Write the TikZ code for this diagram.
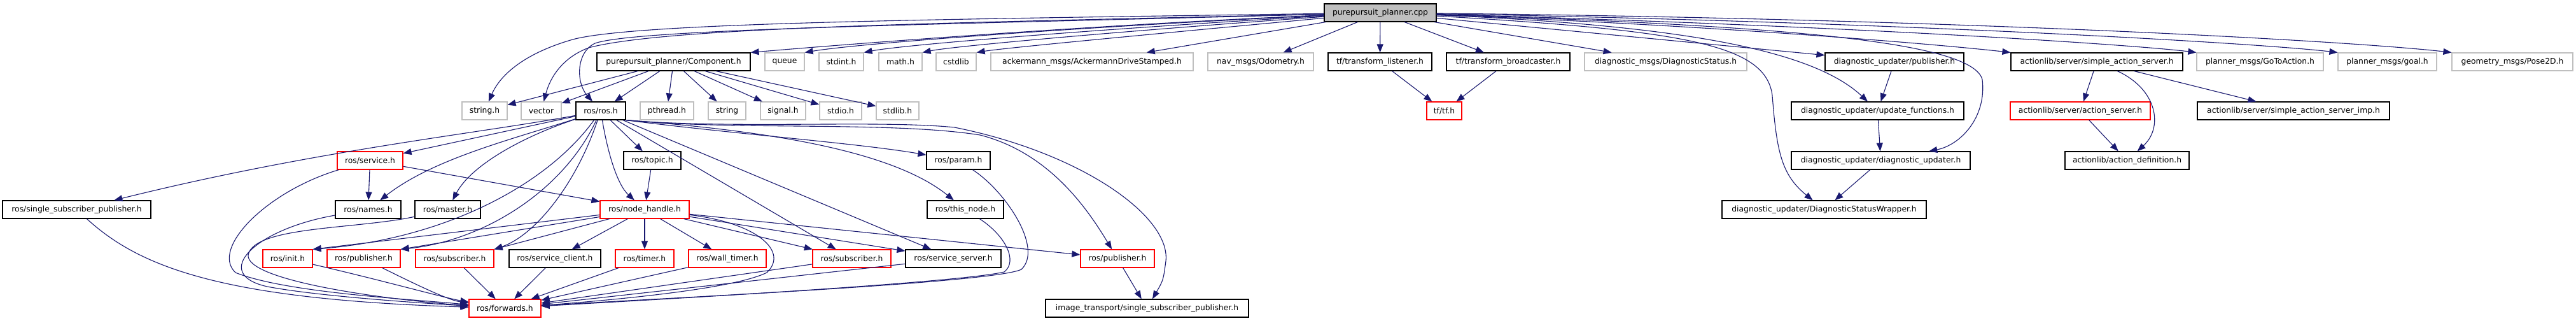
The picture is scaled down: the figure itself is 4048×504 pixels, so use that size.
\documentclass[tikz,border=0pt]{standalone}
\usepackage{fontspec}
\setmainfont{DejaVu Sans}
\usetikzlibrary{arrows.meta}
\definecolor{edgec}{HTML}{191970}
\definecolor{grayb}{HTML}{BFBFBF}
\definecolor{redb}{HTML}{FF0000}
\begin{document}
\begin{tikzpicture}[x=1bp,y=-1bp,
  nbase/.style={rectangle, inner sep=0pt, minimum height=28bp, fill=white, line width=1.2bp, font=\fontsize{12.4}{14}\selectfont},
  blk/.style={nbase, draw=black},
  gry/.style={nbase, draw=grayb},
  rd/.style={nbase, draw=redb},
  rt/.style={nbase, draw=black, fill=grayb},
  dep/.style={draw=edgec, line width=1.1bp, -{Triangle[length=13bp,width=10bp,color=edgec]}}]
\fill[white] (0,0) rectangle (4048,504);
\useasboundingbox (0,0) rectangle (4048,504);
% row 0
\node[rt, minimum width=176bp] (root) at (2169,20) {purepursuit\_planner.cpp};
% row 1
\node[blk, minimum width=241bp] (comp) at (1058.5,97) {purepursuit\_planner/Component.h};
\node[gry, minimum width=62bp] (queue) at (1233,97) {queue};
\node[gry, minimum width=70bp] (stdint) at (1322,97) {stdint.h};
\node[gry, minimum width=68bp] (math) at (1415,97) {math.h};
\node[gry, minimum width=63bp] (cstdlib) at (1502.5,97) {cstdlib};
\node[gry, minimum width=318bp] (acker) at (1716,97) {ackermann\_msgs/AckermannDriveStamped.h};
\node[gry, minimum width=166bp] (odom) at (1981,97) {nav\_msgs/Odometry.h};
\node[blk, minimum width=163bp] (tflist) at (2168.5,97) {tf/transform\_listener.h};
\node[blk, minimum width=194bp] (tfbroad) at (2370,97) {tf/transform\_broadcaster.h};
\node[gry, minimum width=255bp] (diagstat) at (2617.5,97) {diagnostic\_msgs/DiagnosticStatus.h};
\node[blk, minimum width=218bp] (dupub) at (2977,97) {diagnostic\_updater/publisher.h};
\node[blk, minimum width=270bp] (sas) at (3295,97) {actionlib/server/simple\_action\_server.h};
\node[gry, minimum width=199bp] (goto) at (3551.5,97) {planner\_msgs/GoToAction.h};
\node[gry, minimum width=155bp] (goal) at (3751.5,97) {planner\_msgs/goal.h};
\node[gry, minimum width=190bp] (pose) at (3948,97) {geometry\_msgs/Pose2D.h};
% row 2
\node[gry, minimum width=71bp] (stringh) at (761.5,174) {string.h};
\node[gry, minimum width=63bp] (vector) at (850.5,174) {vector};
\node[blk, minimum width=78bp] (rosh) at (944,174) {ros/ros.h};
\node[gry, minimum width=84bp] (pthread) at (1048,174) {pthread.h};
\node[gry, minimum width=59bp] (string) at (1142.5,174) {string};
\node[gry, minimum width=71bp] (signal) at (1230.5,174) {signal.h};
\node[gry, minimum width=66bp] (stdio) at (1321,174) {stdio.h};
\node[gry, minimum width=67bp] (stdlib) at (1410.5,174) {stdlib.h};
\node[rd, minimum width=55bp] (tfh) at (2269.5,174) {tf/tf.h};
\node[blk, minimum width=271bp] (updfn) at (2950.5,174) {diagnostic\_updater/update\_functions.h};
\node[rd, minimum width=220bp] (as) at (3269,174) {actionlib/server/action\_server.h};
\node[blk, minimum width=302bp] (sasimp) at (3604,174) {actionlib/server/simple\_action\_server\_imp.h};
% row 3
\node[rd, minimum width=103bp] (service) at (581.5,252) {ros/service.h};
\node[blk, minimum width=90bp] (topic) at (1025,252) {ros/topic.h};
\node[blk, minimum width=100bp] (param) at (1506,252) {ros/param.h};
\node[blk, minimum width=281bp] (dupd) at (2955.5,252) {diagnostic\_updater/diagnostic\_updater.h};
\node[blk, minimum width=195bp] (actdef) at (3342.5,252) {actionlib/action\_definition.h};
% row 4
\node[blk, minimum width=233bp] (ssp) at (120.5,329) {ros/single\_subscriber\_publisher.h};
\node[blk, minimum width=103bp] (names) at (578.5,329) {ros/names.h};
\node[blk, minimum width=103bp] (master) at (703.5,329) {ros/master.h};
\node[rd, minimum width=140bp] (nh) at (1013,329) {ros/node\_handle.h};
\node[blk, minimum width=120bp] (thisnode) at (1517,329) {ros/this\_node.h};
\node[blk, minimum width=321bp] (dsw) at (2866.5,329) {diagnostic\_updater/DiagnosticStatusWrapper.h};
% row 5
\node[rd, minimum width=78bp] (init) at (452,406) {ros/init.h};
\node[rd, minimum width=115bp] (pubL) at (571.5,406) {ros/publisher.h};
\node[rd, minimum width=123bp] (subL) at (714.5,406) {ros/subscriber.h};
\node[blk, minimum width=144bp] (sc) at (872,406) {ros/service\_client.h};
\node[rd, minimum width=92bp] (timer) at (1013,406) {ros/timer.h};
\node[rd, minimum width=122bp] (wtimer) at (1143,406) {ros/wall\_timer.h};
\node[rd, minimum width=123bp] (subR) at (1338.5,406) {ros/subscriber.h};
\node[blk, minimum width=150bp] (ss) at (1498,406) {ros/service\_server.h};
\node[rd, minimum width=116bp] (pubR) at (1756,406) {ros/publisher.h};
% row 6
\node[rd, minimum width=113bp] (fwd) at (793.5,484) {ros/forwards.h};
\node[blk, minimum width=319bp] (itssp) at (1802.5,484) {image\_transport/single\_subscriber\_publisher.h};

% root edges
\draw[dep] (root) .. controls (1500,30) and (1000,35) .. (900,62) .. controls (820,85) and (785,120) .. (stringh);
\draw[dep] (root) .. controls (1500,36) and (1050,42) .. (925,75) .. controls (885,90) and (865,120) .. (vector);
\draw[dep] (root) .. controls (1500,38) and (1000,45) .. (935,68) .. controls (905,82) and (905,130) .. (rosh);
\draw[dep] (root) .. controls (1700,40) and (1300,72) .. (comp.north east);
\draw[dep] (root) .. controls (1700,42) and (1350,68) .. (queue.north east);
\draw[dep] (root) .. controls (1750,44) and (1420,70) .. (stdint.north east);
\draw[dep] (root) .. controls (1800,46) and (1500,72) .. (math.north east);
\draw[dep] (root) .. controls (1850,50) and (1580,75) .. (cstdlib.north east);
\draw[dep] (root) -- (acker);
\draw[dep] (root) -- (odom);
\draw[dep] (root) -- (tflist);
\draw[dep] (root) -- (tfbroad);
\draw[dep] (root) -- (diagstat);
\draw[dep] (root) -- (dupub);
\draw[dep] (root) .. controls (2650,40) and (2850,80) .. (updfn);
\draw[dep] (root) .. controls (2800,40) and (3100,65) .. (3115,125) .. controls (3122,185) and (3080,228) .. (dupd);
\draw[dep] (root) .. controls (2650,48) and (2775,70) .. (2785,150) .. controls (2792,240) and (2800,275) .. (dsw);
\draw[dep] (root) .. controls (2700,40) and (3050,70) .. (sas.north west);
\draw[dep] (root) .. controls (2900,40) and (3350,70) .. (goto.north west);
\draw[dep] (root) .. controls (3000,35) and (3550,68) .. (goal.north west);
\draw[dep] (root) .. controls (3100,30) and (3700,65) .. (pose.north west);
% Component.h edges
\draw[dep] (comp) -- (stringh);
\draw[dep] (comp) -- (vector);
\draw[dep] (comp) -- (rosh);
\draw[dep] (comp) -- (pthread);
\draw[dep] (comp) -- (string);
\draw[dep] (comp) -- (signal);
\draw[dep] (comp) -- (stdio);
\draw[dep] (comp) -- (stdlib);
% ros.h edges
\draw[dep] (rosh) .. controls (750,210) and (500,235) .. (ssp);
\draw[dep] (rosh) -- (service);
\draw[dep] (rosh) .. controls (800,220) and (680,250) .. (names);
\draw[dep] (rosh) .. controls (820,215) and (740,260) .. (master);
\draw[dep] (rosh) .. controls (955,240) and (970,290) .. (nh);
\draw[dep] (rosh) -- (topic);
\draw[dep] (rosh) .. controls (860,290) and (700,375) .. (init.north east);
\draw[dep] (rosh) .. controls (885,300) and (760,378) .. (pubL.north east);
\draw[dep] (rosh) .. controls (905,290) and (840,370) .. (subL.north east);
\draw[dep] (rosh) -- (subR);
\draw[dep] (rosh) -- (ss);
\draw[dep] (rosh.south east) .. controls (1150,210) and (1350,225) .. (param);
\draw[dep] (rosh.south east) .. controls (1200,205) and (1400,235) .. (thisnode);
\draw[dep] (rosh.south east) .. controls (1150,205) and (1400,190) .. (1540,212) .. controls (1650,240) and (1710,330) .. (pubR);
\draw[dep] (rosh.south east) .. controls (1150,203) and (1380,188) .. (1500,200) .. controls (1700,240) and (1840,340) .. (1832,410) .. controls (1828,440) .. (itssp);
% node_handle edges
\draw[dep] (nh) -- (init.north east);
\draw[dep] (nh) -- (pubL.north east);
\draw[dep] (nh) -- (subL.north east);
\draw[dep] (nh) -- (sc);
\draw[dep] (nh) -- (timer);
\draw[dep] (nh) -- (wtimer);
\draw[dep] (nh) -- (subR);
\draw[dep] (nh) -- (ss);
\draw[dep] (nh) -- (pubR);
\draw[dep] (nh) .. controls (1190,350) and (1240,395) .. (1205,428) .. controls (1150,455) and (950,472) .. (fwd);
% service.h edges
\draw[dep] (service) -- (names);
\draw[dep] (service) -- (nh);
\draw[dep] (service) .. controls (420,300) and (330,390) .. (370,428) .. controls (450,460) and (650,470) .. (fwd);
\draw[dep] (topic) -- (nh);
% edges into forwards.h
\draw[dep] (param) .. controls (1580,300) and (1640,390) .. (1605,423) .. controls (1560,445) and (1000,470) .. (fwd);
\draw[dep] (thisnode) .. controls (1580,370) and (1600,410) .. (1578,427) .. controls (1500,445) and (1000,472) .. (fwd);
\draw[dep] (ss) -- (fwd);
\draw[dep] (subR) -- (fwd);
\draw[dep] (wtimer) -- (fwd);
\draw[dep] (timer) -- (fwd);
\draw[dep] (sc) -- (fwd);
\draw[dep] (subL) -- (fwd);
\draw[dep] (pubL) .. controls (680,460) and (710,472) .. (fwd);
\draw[dep] (init) .. controls (600,440) and (700,468) .. (fwd);
\draw[dep] (ssp) .. controls (220,420) and (350,470) .. (fwd);
\draw[dep] (names) .. controls (400,360) and (330,430) .. (420,450) .. controls (500,465) and (650,475) .. (fwd);
\draw[dep] (master) .. controls (560,360) and (400,355) .. (390,400) .. controls (385,440) and (600,470) .. (fwd);
\draw[dep] (pubR) -- (itssp);
% tf
\draw[dep] (tflist) -- (tfh);
\draw[dep] (tfbroad) -- (tfh);
% diagnostic updater
\draw[dep] (dupub) -- (updfn);
\draw[dep] (updfn) -- (dupd);
\draw[dep] (dupd) -- (dsw);
% actionlib
\draw[dep] (sas) -- (as);
\draw[dep] (sas) .. controls (3390,140) and (3400,200) .. (actdef);
\draw[dep] (sas) -- (sasimp);
\draw[dep] (as) -- (actdef);
\end{tikzpicture}
\end{document}
